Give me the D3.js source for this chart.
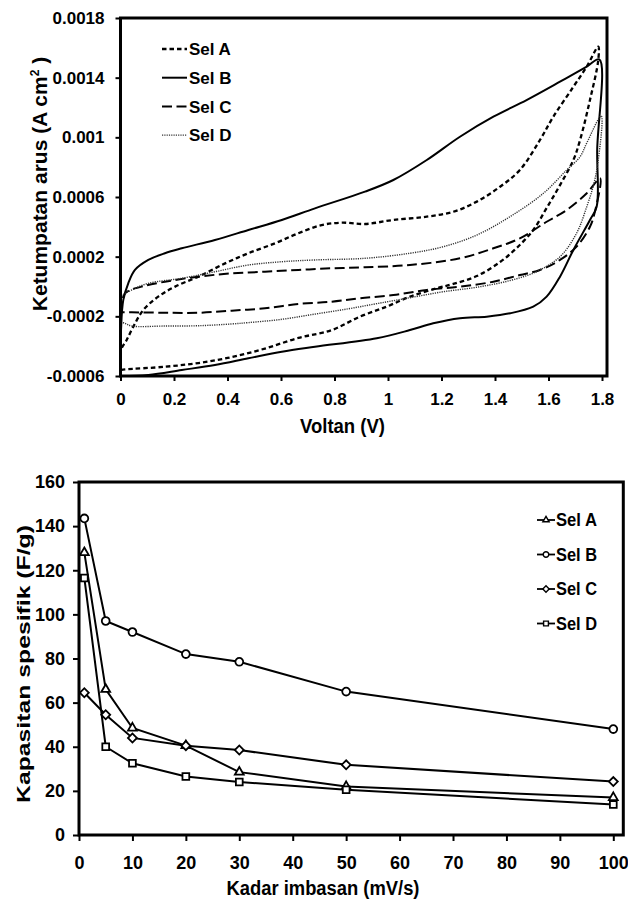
<!DOCTYPE html>
<html>
<head>
<meta charset="utf-8">
<script src="https://cdnjs.cloudflare.com/ajax/libs/d3/7.8.5/d3.min.js"></script>
<style>
    body { margin: 0; background: #fff; }
    svg text { font-family: "Liberation Sans", Arial, sans-serif; font-weight: bold; fill: #000; }
</style>
</head>
<body>
<svg id="chart" width="628" height="899"></svg>
<script>
// CV loops, [voltage (V), current density (A cm-2)]
let selA = [
    [0, -5.60e-4], [0.002, -4.26e-4], [0.023, -3.59e-4], [0.048, -2.69e-4], [0.085, -1.58e-4],
    [0.141, -0.68e-4], [0.204, -0.01e-4], [0.291, 0.66e-4], [0.391, 1.55e-4], [0.478, 2.23e-4],
    [0.578, 2.90e-4], [0.665, 3.57e-4], [0.752, 4.12e-4], [0.827, 4.28e-4], [0.914, 4.19e-4],
    [1.020, 4.46e-4], [1.145, 4.68e-4], [1.244, 5.01e-4], [1.332, 5.69e-4], [1.419, 6.69e-4],
    [1.493, 7.81e-4], [1.568, 9.82e-4], [1.618, 11.38e-4], [1.693, 13.39e-4], [1.743, 14.74e-4],
    [1.786, 16.08e-4],
    [1.786, 15.18e-4], [1.755, 12.50e-4], [1.718, 9.82e-4], [1.693, 8.48e-4], [1.643, 6.80e-4],
    [1.593, 5.26e-4], [1.543, 3.79e-4], [1.481, 2.58e-4], [1.419, 1.64e-4], [1.332, 0.70e-4],
    [1.244, 0.17e-4], [1.182, -0.12e-4], [1.082, -0.68e-4], [0.995, -1.35e-4], [0.895, -2.02e-4],
    [0.790, -2.92e-4], [0.665, -3.45e-4], [0.540, -4.16e-4], [0.416, -4.73e-4], [0.291, -5.13e-4],
    [0.166, -5.38e-4], [0.017, -5.56e-4], [0, -5.60e-4]
];
let selB = [
    [0, -6.0e-4], [0.002, -2.92e-4], [0.0105, -0.90e-4], [0.029, 0.21e-4], [0.054, 1.11e-4],
    [0.104, 1.78e-4], [0.166, 2.23e-4], [0.229, 2.56e-4], [0.353, 3.12e-4], [0.478, 3.79e-4],
    [0.603, 4.46e-4], [0.727, 5.24e-4], [0.914, 6.36e-4], [1.020, 7.14e-4], [1.145, 8.48e-4],
    [1.269, 10.04e-4], [1.394, 11.38e-4], [1.518, 12.50e-4], [1.643, 13.73e-4], [1.743, 14.74e-4],
    [1.790, 15.23e-4],
    [1.782, 9.15e-4], [1.780, 5.35e-4], [1.755, 4.46e-4], [1.693, 2.45e-4], [1.643, 0.66e-4],
    [1.593, -0.68e-4], [1.543, -1.35e-4], [1.456, -1.80e-4], [1.369, -2.02e-4], [1.269, -2.13e-4],
    [1.169, -2.47e-4], [1.082, -2.92e-4], [0.958, -3.47e-4], [0.727, -4.04e-4], [0.603, -4.37e-4],
    [0.478, -4.81e-4], [0.353, -5.26e-4], [0.229, -5.60e-4], [0.104, -5.93e-4], [0, -6.0e-4]
];
let selC = [
    [0, -1.73e-4], [0.017, -0.46e-4], [0.079, -0.01e-4], [0.166, 0.32e-4], [0.291, 0.66e-4],
    [0.416, 0.88e-4], [0.540, 0.99e-4], [0.665, 1.11e-4], [0.790, 1.22e-4], [0.914, 1.29e-4],
    [1.082, 1.44e-4], [1.269, 1.89e-4], [1.394, 2.56e-4], [1.493, 3.23e-4], [1.593, 4.34e-4],
    [1.668, 5.13e-4], [1.743, 6.25e-4], [1.793, 7.25e-4],
    [1.772, 4.91e-4], [1.755, 4.01e-4], [1.705, 2.67e-4], [1.643, 1.78e-4], [1.568, 1.11e-4],
    [1.493, 0.77e-4], [1.394, 0.32e-4], [1.269, -0.01e-4], [1.145, -0.23e-4], [1.020, -0.57e-4],
    [0.895, -0.79e-4], [0.790, -1.02e-4], [0.665, -1.17e-4], [0.540, -1.46e-4], [0.416, -1.62e-4],
    [0.291, -1.76e-4], [0.166, -1.76e-4], [0.042, -1.73e-4], [0, -1.73e-4]
];
let selD = [
    [0, -2.36e-4], [0.004, -0.68e-4], [0.042, -0.23e-4], [0.104, 0.21e-4], [0.229, 0.55e-4],
    [0.353, 0.99e-4], [0.478, 1.44e-4], [0.603, 1.66e-4], [0.727, 1.78e-4], [0.914, 1.89e-4],
    [1.082, 2.23e-4], [1.207, 2.67e-4], [1.332, 3.45e-4], [1.456, 4.68e-4], [1.581, 6.25e-4],
    [1.668, 7.81e-4], [1.718, 8.70e-4], [1.743, 9.62e-4], [1.797, 11.43e-4],
    [1.786, 8.48e-4], [1.770, 6.92e-4], [1.743, 5.35e-4], [1.705, 3.57e-4], [1.643, 2.00e-4],
    [1.556, 1.00e-4], [1.456, 0.40e-4], [1.332, -0.05e-4], [1.207, -0.35e-4], [1.082, -0.75e-4],
    [0.958, -1.15e-4], [0.850, -1.50e-4], [0.727, -1.85e-4], [0.603, -2.20e-4], [0.478, -2.42e-4],
    [0.416, -2.51e-4], [0.291, -2.63e-4], [0.166, -2.65e-4], [0.042, -2.65e-4], [0.017, -2.47e-4],
    [0, -2.36e-4]
];
let voltTicks = [0, 0.2, 0.4, 0.6, 0.8, 1, 1.2, 1.4, 1.6, 1.8];
let voltTickLabels = ["0", "0.2", "0.4", "0.6", "0.8", "1", "1.2", "1.4", "1.6", "1.8"];
let currentTicks = [-0.0006, -0.0002, 0.0002, 0.0006, 0.001, 0.0014, 0.0018];
let currentTickLabels = ["-0.0006", "-0.0002", "0.0002", "0.0006", "0.001", "0.0014", "0.0018"];

// specific capacitance (F/g) vs scan rate (mV/s)
let scanRates = [1, 5, 10, 20, 30, 50, 100];
let capSelA = [128, 66, 48.5, 40.5, 28.5, 22, 17];
let capSelB = [143.5, 97, 92, 82, 78.5, 65, 48];
let capSelC = [64.5, 54.5, 44, 40.5, 38.5, 31.8, 24.2];
let capSelD = [116.5, 40, 32.5, 26.5, 24, 20.5, 13.8];
let rateTicks = [0, 10, 20, 30, 40, 50, 60, 70, 80, 90, 100];
let capTicks = [0, 20, 40, 60, 80, 100, 120, 140, 160];

let seriesNames = ["Sel A", "Sel B", "Sel C", "Sel D"];


function CvChart(svg){
    let self = this;
    self.svg = svg;
    self.left = 120.5;
    self.right = 607;
    self.top = 18;
    self.bottom = 376;
    self.init();
};

CvChart.prototype.init = function() {
    let self = this;
    let g = self.svg.append("g").attr("class", "cv");

    //Scale
    let xScale = d3.scaleLinear().domain([0, 1.8]).range([self.left, 602]);
    let yScale = d3.scaleLinear().domain([-0.0006, 0.0018]).range([self.bottom, self.top]);

    let styles = [
        { dash: "4.5,3", width: 2.3, color: "#000" },
        { dash: null, width: 2, color: "#000" },
        { dash: "10,4.5", width: 2, color: "#000" },
        { dash: "1.2,1.1", width: 1.4, color: "#333" }
    ];
    let loops = [selA, selB, selC, selD];

    let line = d3.line()
        .x(function(d){ return xScale(d[0]); })
        .y(function(d){ return yScale(d[1]); })
        .curve(d3.curveCatmullRom.alpha(0.5));

    g.selectAll(".loop")
        .data(loops)
        .enter()
        .append("path")
        .attr("class", "loop")
        .attr("d", line)
        .attr("fill", "none")
        .attr("stroke", function(d, i){ return styles[i].color; })
        .attr("stroke-width", function(d, i){ return styles[i].width; })
        .attr("stroke-dasharray", function(d, i){ return styles[i].dash; });

    //Axis
    let xAxis = d3.axisBottom(xScale)
        .tickValues(voltTicks)
        .tickFormat(function(d, i){ return voltTickLabels[i]; })
        .tickSize(5)
        .tickPadding(12)
        .tickSizeOuter(0);
    let yAxis = d3.axisLeft(yScale)
        .tickValues(currentTicks)
        .tickFormat(function(d, i){ return currentTickLabels[i]; })
        .tickSize(5)
        .tickPadding(11)
        .tickSizeOuter(0);

    let xg = g.append("g")
        .attr("transform", "translate(0," + self.bottom + ")")
        .call(xAxis);
    let yg = g.append("g")
        .attr("transform", "translate(" + self.left + ",0)")
        .call(yAxis);
    [xg, yg].forEach(function(a){
        a.select(".domain").remove();
        a.selectAll("line").attr("stroke", "#000").attr("stroke-width", 2);
        a.selectAll("text").style("font-size", "17px").attr("fill", "#000");
    });

    g.append("rect")
        .attr("x", self.left)
        .attr("y", self.top)
        .attr("width", self.right - self.left)
        .attr("height", self.bottom - self.top)
        .attr("fill", "none")
        .attr("stroke", "#000")
        .attr("stroke-width", 3);

    // titles
    g.append("text")
        .attr("x", 342.5)
        .attr("y", 433)
        .attr("text-anchor", "middle")
        .attr("textLength", 85)
        .attr("lengthAdjust", "spacingAndGlyphs")
        .style("font-size", "21px")
        .text("Voltan (V)");

    let yTitle = g.append("text")
        .attr("transform", "translate(47,184) rotate(-90)")
        .attr("text-anchor", "middle")
        .style("font-size", "21px");
    yTitle.append("tspan").text("Ketumpatan arus (A cm");
    yTitle.append("tspan").attr("dy", -8).style("font-size", "12px").text("2");
    yTitle.append("tspan").attr("dy", 8).text(" )");

    // legend
    let legend = g.selectAll(".cvLegend")
        .data(seriesNames)
        .enter()
        .append("g")
        .attr("class", "cvLegend")
        .attr("transform", function(d, i){ return "translate(0," + (49 + i * 28.7) + ")"; });
    legend.append("line")
        .attr("x1", 162).attr("x2", 187)
        .attr("stroke", function(d, i){ return styles[i].color; })
        .attr("stroke-width", function(d, i){ return styles[i].width; })
        .attr("stroke-dasharray", function(d, i){ return styles[i].dash; });
    legend.append("text")
        .attr("x", 189)
        .attr("dy", "0.36em")
        .style("font-size", "17px")
        .text(function(d){ return d; });
}


function CapChart(svg){
    let self = this;
    self.svg = svg;
    self.left = 79;
    self.right = 623.3;
    self.top = 482;
    self.bottom = 835;
    self.init();
};

CapChart.prototype.symbolPath = function(i, scale) {
    let types = [d3.symbolTriangle, d3.symbolCircle, d3.symbolSquare, d3.symbolSquare];
    let sizes = [34, 48, 40, 46];
    return d3.symbol().type(types[i]).size(sizes[i] * scale)();
}

CapChart.prototype.init = function() {
    let self = this;
    let g = self.svg.append("g").attr("class", "cap");
    let series = [capSelA, capSelB, capSelC, capSelD];

    //Scale
    let xScale = d3.scaleLinear().domain([0, 100]).range([self.left, 613.3]);
    let yScale = d3.scaleLinear().domain([0, 160]).range([self.bottom, self.top]);

    let line = d3.line()
        .x(function(d, i){ return xScale(scanRates[i]); })
        .y(function(d){ return yScale(d); });

    g.selectAll(".capLine")
        .data(series)
        .enter()
        .append("path")
        .attr("class", "capLine")
        .attr("d", line)
        .attr("fill", "none")
        .attr("stroke", "#000")
        .attr("stroke-width", 2);

    series.forEach(function(values, s){
        g.selectAll(".mark" + s)
            .data(values)
            .enter()
            .append("path")
            .attr("class", "mark" + s)
            .attr("d", self.symbolPath(s, 1))
            .attr("transform", function(d, i){
                return "translate(" + xScale(scanRates[i]) + "," + yScale(d) + ")" + (s == 2 ? " rotate(45)" : "");
            })
            .attr("fill", "#fff")
            .attr("stroke", "#000")
            .attr("stroke-width", 1.8);
    });

    //Axis
    let xAxis = d3.axisBottom(xScale)
        .tickValues(rateTicks)
        .tickSize(6)
        .tickPadding(15)
        .tickSizeOuter(0);
    let yAxis = d3.axisLeft(yScale)
        .tickValues(capTicks)
        .tickSize(6)
        .tickPadding(8)
        .tickSizeOuter(0);

    let xg = g.append("g")
        .attr("transform", "translate(0," + self.bottom + ")")
        .call(xAxis);
    let yg = g.append("g")
        .attr("transform", "translate(" + self.left + ",0)")
        .call(yAxis);
    [xg, yg].forEach(function(a){
        a.select(".domain").remove();
        a.selectAll("line").attr("stroke", "#000").attr("stroke-width", 2);
        a.selectAll("text").style("font-size", "18px").attr("fill", "#000");
    });

    g.append("rect")
        .attr("x", self.left)
        .attr("y", self.top)
        .attr("width", self.right - self.left)
        .attr("height", self.bottom - self.top)
        .attr("fill", "none")
        .attr("stroke", "#000")
        .attr("stroke-width", 3);

    // titles
    g.append("text")
        .attr("x", 323)
        .attr("y", 895)
        .attr("text-anchor", "middle")
        .attr("textLength", 193)
        .attr("lengthAdjust", "spacingAndGlyphs")
        .style("font-size", "20px")
        .text("Kadar imbasan (mV/s)");

    g.append("text")
        .attr("transform", "translate(30,664) rotate(-90)")
        .attr("text-anchor", "middle")
        .attr("textLength", 278)
        .attr("lengthAdjust", "spacingAndGlyphs")
        .style("font-size", "19px")
        .text("Kapasitan spesifik (F/g)");

    // legend
    let legend = g.selectAll(".capLegend")
        .data(seriesNames)
        .enter()
        .append("g")
        .attr("class", "capLegend")
        .attr("transform", function(d, i){ return "translate(0," + (520 + i * 34.5) + ")"; });
    legend.append("line")
        .attr("x1", 537).attr("x2", 555)
        .attr("stroke", "#000")
        .attr("stroke-width", 1.8);
    legend.append("path")
        .attr("d", function(d, i){ return self.symbolPath(i, 0.5); })
        .attr("transform", function(d, i){ return "translate(546,0)" + (i == 2 ? " rotate(45)" : ""); })
        .attr("fill", "#fff")
        .attr("stroke", "#000")
        .attr("stroke-width", 1.4);
    legend.append("text")
        .attr("x", 556)
        .attr("dy", "0.36em")
        .attr("textLength", 41)
        .attr("lengthAdjust", "spacingAndGlyphs")
        .style("font-size", "18px")
        .text(function(d){ return d; });
}

let svg = d3.select("#chart");
new CvChart(svg);
new CapChart(svg);
</script>
</body>
</html>
